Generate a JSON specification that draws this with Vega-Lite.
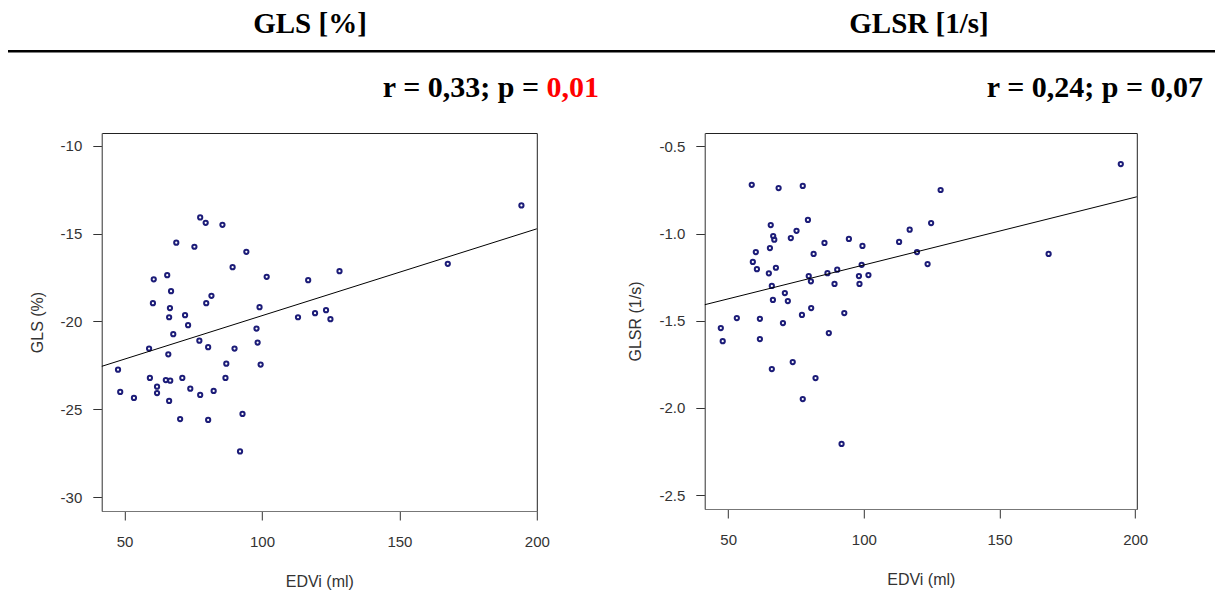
{
  "$schema": "https://vega.github.io/schema/vega-lite/v6.json",
  "padding": {"left": 8, "top": 10, "right": 0, "bottom": 0},
  "background": "white",
  "config": {
    "view": {"stroke": null},
    "font": "Liberation Sans",
    "axis": {"labelFont": "Liberation Sans", "titleFont": "Liberation Sans", "labelFontSize": 15, "titleFontSize": 16, "labelColor": "#333333", "titleColor": "#333333", "titleFontWeight": "normal", "tickColor": "#333333", "domainColor": "#777777", "tickSize": 9, "grid": false, "labelFlush": false, "labelOverlap": false}
  },
  "datasets": {
    "gls": [
      {"edvi": 77.5, "gls": -14.08}, {"edvi": 79.5, "gls": -14.39}, {"edvi": 85.6, "gls": -14.5}, {"edvi": 68.8, "gls": -15.52},
      {"edvi": 75.4, "gls": -15.75}, {"edvi": 94.3, "gls": -16.04}, {"edvi": 89.3, "gls": -16.91}, {"edvi": 101.7, "gls": -17.46},
      {"edvi": 116.8, "gls": -17.65}, {"edvi": 60.6, "gls": -17.6}, {"edvi": 65.5, "gls": -17.37}, {"edvi": 66.9, "gls": -18.28},
      {"edvi": 81.6, "gls": -18.54}, {"edvi": 79.7, "gls": -18.96}, {"edvi": 60.3, "gls": -18.96}, {"edvi": 66.5, "gls": -19.24},
      {"edvi": 99.1, "gls": -19.19}, {"edvi": 72.0, "gls": -19.64}, {"edvi": 66.2, "gls": -19.76}, {"edvi": 113.1, "gls": -19.76},
      {"edvi": 119.3, "gls": -19.53}, {"edvi": 73.1, "gls": -20.21}, {"edvi": 67.7, "gls": -20.72}, {"edvi": 98.0, "gls": -20.4},
      {"edvi": 77.2, "gls": -21.09}, {"edvi": 98.4, "gls": -21.2}, {"edvi": 58.9, "gls": -21.54}, {"edvi": 80.4, "gls": -21.46},
      {"edvi": 90.0, "gls": -21.54}, {"edvi": 65.9, "gls": -21.87}, {"edvi": 47.6, "gls": -22.74}, {"edvi": 87.0, "gls": -22.4},
      {"edvi": 99.5, "gls": -22.45}, {"edvi": 59.2, "gls": -23.21}, {"edvi": 65.0, "gls": -23.33}, {"edvi": 66.6, "gls": -23.37},
      {"edvi": 71.0, "gls": -23.21}, {"edvi": 86.7, "gls": -23.21}, {"edvi": 48.4, "gls": -24.01}, {"edvi": 53.4, "gls": -24.35},
      {"edvi": 61.8, "gls": -23.71}, {"edvi": 61.8, "gls": -24.07}, {"edvi": 73.9, "gls": -23.82}, {"edvi": 77.5, "gls": -24.18},
      {"edvi": 82.4, "gls": -23.95}, {"edvi": 66.2, "gls": -24.52}, {"edvi": 70.2, "gls": -25.55}, {"edvi": 80.4, "gls": -25.6},
      {"edvi": 92.9, "gls": -25.26}, {"edvi": 92.0, "gls": -27.39}, {"edvi": 194.4, "gls": -13.4}, {"edvi": 167.6, "gls": -16.72},
      {"edvi": 128.2, "gls": -17.14}, {"edvi": 123.3, "gls": -19.36}, {"edvi": 124.9, "gls": -19.87}
    ],
    "glsLine": [{"edvi": 41.7, "gls": -22.55}, {"edvi": 200, "gls": -14.73}],
    "glsr": [
      {"edvi": 58.7, "glsr": -0.72}, {"edvi": 68.6, "glsr": -0.739}, {"edvi": 77.5, "glsr": -0.727}, {"edvi": 79.4, "glsr": -0.922},
      {"edvi": 65.7, "glsr": -0.951}, {"edvi": 75.2, "glsr": -0.984}, {"edvi": 66.6, "glsr": -1.014}, {"edvi": 67.0, "glsr": -1.035},
      {"edvi": 73.1, "glsr": -1.026}, {"edvi": 116.9, "glsr": -0.978}, {"edvi": 113.0, "glsr": -1.048}, {"edvi": 94.5, "glsr": -1.031},
      {"edvi": 85.5, "glsr": -1.054}, {"edvi": 99.5, "glsr": -1.071}, {"edvi": 65.4, "glsr": -1.083}, {"edvi": 60.2, "glsr": -1.106},
      {"edvi": 81.5, "glsr": -1.117}, {"edvi": 59.1, "glsr": -1.163}, {"edvi": 60.6, "glsr": -1.204}, {"edvi": 67.6, "glsr": -1.196},
      {"edvi": 65.0, "glsr": -1.228}, {"edvi": 99.2, "glsr": -1.179}, {"edvi": 90.2, "glsr": -1.207}, {"edvi": 86.6, "glsr": -1.227},
      {"edvi": 79.7, "glsr": -1.244}, {"edvi": 80.5, "glsr": -1.274}, {"edvi": 98.2, "glsr": -1.244}, {"edvi": 101.7, "glsr": -1.238},
      {"edvi": 66.1, "glsr": -1.3}, {"edvi": 89.2, "glsr": -1.289}, {"edvi": 98.4, "glsr": -1.289}, {"edvi": 70.9, "glsr": -1.341},
      {"edvi": 66.5, "glsr": -1.381}, {"edvi": 72.0, "glsr": -1.387}, {"edvi": 80.6, "glsr": -1.427}, {"edvi": 77.2, "glsr": -1.467},
      {"edvi": 92.8, "glsr": -1.456}, {"edvi": 53.2, "glsr": -1.485}, {"edvi": 61.7, "glsr": -1.489}, {"edvi": 70.2, "glsr": -1.513},
      {"edvi": 47.3, "glsr": -1.542}, {"edvi": 48.0, "glsr": -1.617}, {"edvi": 61.7, "glsr": -1.605}, {"edvi": 87.1, "glsr": -1.571},
      {"edvi": 73.8, "glsr": -1.737}, {"edvi": 66.1, "glsr": -1.777}, {"edvi": 82.2, "glsr": -1.829}, {"edvi": 77.5, "glsr": -1.949},
      {"edvi": 91.8, "glsr": -2.207}, {"edvi": 194.7, "glsr": -0.601}, {"edvi": 128.3, "glsr": -0.75}, {"edvi": 124.8, "glsr": -0.94},
      {"edvi": 119.6, "glsr": -1.106}, {"edvi": 123.5, "glsr": -1.175}, {"edvi": 168.1, "glsr": -1.117}
    ],
    "glsrLine": [{"edvi": 41.4, "glsr": -1.408}, {"edvi": 200.6, "glsr": -0.789}],
    "ruleRow": [{"k": "rule"}],
    "statL": [{"label": "r = 0,33; p ="}],
    "statLp": [{"label": "0,01"}],
    "statR": [{"label": "r = 0,24; p = 0,07"}]
  },
  "center": true,
  "spacing": 29,
  "vconcat": [
    {
      "spacing": 0,
      "hconcat": [
        {
          "width": 604, "height": 46,
          "title": {"text": "GLS [%]", "font": "Liberation Serif", "fontSize": 29, "fontWeight": "bold", "color": "black", "offset": 11, "anchor": "middle"},
          "layer": [
            {"data": {"name": "ruleRow"}, "mark": {"type": "rect", "color": "black"},
             "encoding": {"y": {"datum": 1.02, "type": "quantitative", "scale": {"domain": [0, 1]}, "axis": null}, "y2": {"datum": 0.965}}},
            {"data": {"name": "statL"}, "mark": {"type": "text", "font": "Liberation Serif", "fontSize": 30, "fontWeight": "bold", "align": "right", "baseline": "alphabetic", "dx": -73, "color": "black"},
             "encoding": {"text": {"field": "label"}, "x": {"datum": 1, "type": "quantitative", "scale": {"domain": [0, 1]}, "axis": null}, "y": {"datum": 0, "type": "quantitative", "scale": {"domain": [0, 1]}, "axis": null}}},
            {"data": {"name": "statLp"}, "mark": {"type": "text", "font": "Liberation Serif", "fontSize": 30, "fontWeight": "bold", "align": "right", "baseline": "alphabetic", "dx": -13, "color": "#ff0000"},
             "encoding": {"text": {"field": "label"}, "x": {"datum": 1, "type": "quantitative", "scale": {"domain": [0, 1]}, "axis": null}, "y": {"datum": 0, "type": "quantitative", "scale": {"domain": [0, 1]}, "axis": null}}}
          ]
        },
        {
          "width": 630, "height": 46,
          "title": {"text": "GLSR [1/s]", "font": "Liberation Serif", "fontSize": 29, "fontWeight": "bold", "color": "black", "offset": 11, "anchor": "middle", "dx": -8},
          "layer": [
            {"data": {"name": "ruleRow"}, "mark": {"type": "rect", "color": "black"},
             "encoding": {"y": {"datum": 1.02, "type": "quantitative", "scale": {"domain": [0, 1]}, "axis": null}, "y2": {"datum": 0.965}}},
            {"data": {"name": "statR"}, "mark": {"type": "text", "font": "Liberation Serif", "fontSize": 30, "fontWeight": "bold", "align": "right", "baseline": "alphabetic", "dx": -39, "color": "black"},
             "encoding": {"text": {"field": "label"}, "x": {"datum": 1, "type": "quantitative", "scale": {"domain": [0, 1]}, "axis": null}, "y": {"datum": 0, "type": "quantitative", "scale": {"domain": [0, 1]}, "axis": null}}}
          ]
        }
      ]
    },
    {
      "spacing": 76,
      "hconcat": [
        {
          "width": 435, "height": 378,
          "view": {"stroke": "#222222", "strokeWidth": 1},
          "layer": [
            {"data": {"name": "gls"}, "mark": {"type": "point", "shape": "circle", "filled": false, "size": 18, "strokeWidth": 2, "color": "#1c1c78", "opacity": 1},
             "encoding": {
               "x": {"field": "edvi", "type": "quantitative", "scale": {"domain": [41.7, 200], "nice": false, "zero": false},
                     "axis": {"title": "EDVi (ml)", "values": [50, 100, 150, 200], "labelPadding": 14, "titlePadding": 24}},
               "y": {"field": "gls", "type": "quantitative", "scale": {"domain": [-30.78, -9.28], "nice": false, "zero": false},
                     "axis": {"title": "GLS (%)", "values": [-10, -15, -20, -25, -30], "labelPadding": 11, "titlePadding": 15,
                              "labelExpr": "datum.value < 0 ? '-' + format(-datum.value, 'd') : format(datum.value, 'd')"}}
             }},
            {"data": {"name": "glsLine"}, "mark": {"type": "line", "color": "black", "strokeWidth": 1},
             "encoding": {"x": {"field": "edvi", "type": "quantitative"}, "y": {"field": "gls", "type": "quantitative"}}}
          ]
        },
        {
          "width": 432, "height": 376,
          "view": {"stroke": "#222222", "strokeWidth": 1},
          "layer": [
            {"data": {"name": "glsr"}, "mark": {"type": "point", "shape": "circle", "filled": false, "size": 18, "strokeWidth": 2, "color": "#1c1c78", "opacity": 1},
             "encoding": {
               "x": {"field": "edvi", "type": "quantitative", "scale": {"domain": [41.4, 200.6], "nice": false, "zero": false},
                     "axis": {"title": "EDVi (ml)", "values": [50, 100, 150, 200], "labelPadding": 14, "titlePadding": 24}},
               "y": {"field": "glsr", "type": "quantitative", "scale": {"domain": [-2.58, -0.423], "nice": false, "zero": false},
                     "axis": {"title": "GLSR (1/s)", "values": [-0.5, -1.0, -1.5, -2.0, -2.5], "labelPadding": 11, "titlePadding": 15,
                              "labelExpr": "datum.value < 0 ? '-' + format(-datum.value, '.1f') : format(datum.value, '.1f')"}}
             }},
            {"data": {"name": "glsrLine"}, "mark": {"type": "line", "color": "black", "strokeWidth": 1},
             "encoding": {"x": {"field": "edvi", "type": "quantitative"}, "y": {"field": "glsr", "type": "quantitative"}}}
          ]
        }
      ]
    }
  ]
}
